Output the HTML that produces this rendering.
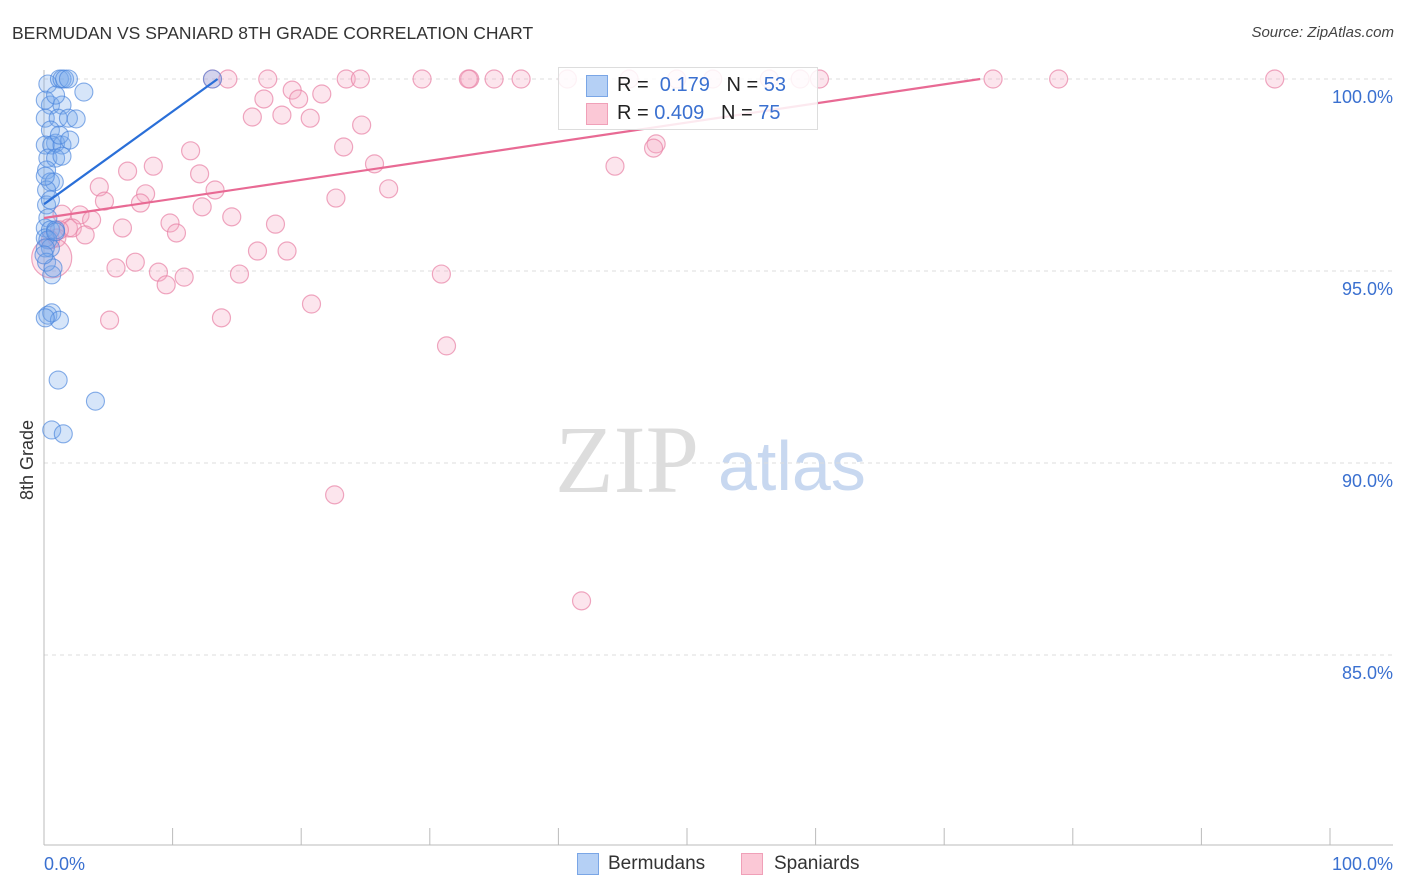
<!DOCTYPE html>
<html><head><meta charset="utf-8"><style>
body{margin:0;background:#fff;font-family:"Liberation Sans",sans-serif;}
#wrap{position:relative;width:1406px;height:892px;overflow:hidden;}
.t{position:absolute;white-space:nowrap;}
</style></head><body>
<div id="wrap">
<div class="t" style="left:12px;top:23px;font-size:17.5px;color:#333;">BERMUDAN VS SPANIARD 8TH GRADE CORRELATION CHART</div>
<div class="t" style="right:12px;top:24px;font-size:15px;color:#444;font-style:italic;">Source: ZipAtlas.com</div>
<div class="t" style="left:17px;top:500px;font-size:18px;color:#333;transform:rotate(-90deg);transform-origin:left top;">8th Grade</div>
<svg id="plot" width="1406" height="892" style="position:absolute;left:0;top:0">
<text x="555" y="492" font-family="Liberation Serif,serif" font-size="96" fill="#ddd">ZIP</text>
<text x="718" y="490" font-family="Liberation Sans,sans-serif" font-size="70" fill="#c8d8f0">atlas</text>
</svg>
<div style="position:absolute;left:558px;top:67px;width:258px;height:61px;border:1px solid #ddd;background:rgba(255,255,255,0.85);"></div>
<div style="position:absolute;left:586px;top:75px;width:20px;height:20px;background:#b5d0f5;border:1px solid #7aa6e6;"></div>
<div style="position:absolute;left:586px;top:103px;width:20px;height:20px;background:#fbc8d6;border:1px solid #f0a0b8;"></div>
<div class="t" style="left:617px;top:74px;font-size:20px;color:#222;">R = &nbsp;<span style="color:#3a70d0">0.179</span>&nbsp;&nbsp;&nbsp;N = <span style="color:#3a70d0">53</span></div>
<div class="t" style="left:617px;top:102px;font-size:20px;color:#222;">R = <span style="color:#3a70d0">0.409</span>&nbsp;&nbsp;&nbsp;N = <span style="color:#3a70d0">75</span></div>
<div style="position:absolute;left:577px;top:853px;width:20px;height:20px;background:#b5d0f5;border:1px solid #7aa6e6;"></div>
<div class="t" style="left:608px;top:853px;font-size:19px;color:#333;">Bermudans</div>
<div style="position:absolute;left:741px;top:853px;width:20px;height:20px;background:#fbc8d6;border:1px solid #f0a0b8;"></div>
<div class="t" style="left:774px;top:853px;font-size:19px;color:#333;">Spaniards</div>
</div>
<script>
const blueX=[0.3,1.2,1.4,1.6,1.9,3.1,0.5,1.4,0.1,1.1,1.9,2.5,0.5,0.9,0.1,0.6,1.4,0.3,0.9,1.4,0.2,0.5,0.8,0.2,0.2,0.3,0.1,0.5,0.9,0.1,0.3,0.5,0.1,0.6,0.3,0.6,1.2,0.1,1.1,4.0,0.6,1.5,13.1,0.1,0.5,0.9,0.2,0.7,0.0,1.2,2.0,0.1,0.9];
const blueY=[99.87,100,100,100,100,99.66,99.32,99.32,98.98,98.98,98.98,98.96,98.67,98.33,98.28,98.28,98.28,97.94,97.94,97.99,97.63,97.32,97.32,97.11,96.72,96.38,96.12,96.07,96.07,95.86,95.81,95.6,95.6,94.9,93.85,93.91,93.72,93.78,92.16,91.61,90.86,90.76,100,97.47,96.85,96.02,95.23,95.08,95.42,98.54,98.41,99.45,99.58];
const pinkX=[13.1,14.3,17.4,23.5,24.6,29.4,33.1,35.0,37.1,40.7,45.5,49.2,52.0,56.4,58.8,60.3,73.8,78.9,95.7,33.0,19.3,17.1,21.6,19.8,16.2,18.5,20.7,24.7,11.4,23.3,47.6,47.4,44.4,25.7,6.5,8.5,4.3,7.9,13.3,12.1,26.8,22.7,4.7,7.5,12.3,1.4,2.8,3.7,14.6,18.0,6.1,9.8,10.3,1.9,2.2,3.2,1.0,0.6,5.6,7.1,8.9,10.9,9.5,15.2,16.6,18.9,30.9,5.1,13.8,20.8,31.3,22.6,41.8,0.5,1.2];
const pinkY=[100,100,100,100,100,100,100,100,100,100,100,100,100,100,100,100,100,100,100,100,99.71,99.48,99.61,99.48,99.01,99.06,98.98,98.8,98.13,98.23,98.31,98.2,97.73,97.79,97.6,97.73,97.19,97.01,97.11,97.53,97.14,96.9,96.82,96.77,96.67,96.48,96.46,96.33,96.41,96.22,96.12,96.25,95.99,96.12,96.12,95.94,95.86,95.34,95.08,95.23,94.97,94.84,94.64,94.92,95.52,95.52,94.92,93.72,93.78,94.14,93.05,89.17,86.41,95.81,96.07];
const yTicks=[100,95,90,85];
const xTickLabels=["0.0%","100.0%"];
const blueTrend=[[0,96.74],[13.5,100]];
const pinkTrend=[[0,96.38],[72.8,100]];
const X=v=>44+v*12.86, Y=v=>79+(100-v)*38.4;
const svg=document.getElementById('plot'), NS='http://www.w3.org/2000/svg';
function mk(tag,attrs){const e=document.createElementNS(NS,tag);for(const k in attrs)e.setAttribute(k,attrs[k]);svg.appendChild(e);return e;}
yTicks.forEach(v=>{
 const g=mk('line',{x1:44,x2:1393,y1:Y(v),y2:Y(v),stroke:'#ddd','stroke-dasharray':'4,4'});
 
 
 const t=mk('text',{x:1393,y:Y(v)+24,'text-anchor':'end','font-size':18,fill:'#3a70d0','font-family':'Liberation Sans,sans-serif'});
 t.textContent=v.toFixed(1)+'%';
 
 
});
let a=mk('line',{x1:44,x2:1393,y1:845,y2:845,stroke:'#bbb'});


a=mk('line',{x1:44,x2:44,y1:70,y2:845,stroke:'#bbb'});


for(let i=0;i<=10;i++){const tk=mk('line',{x1:X(i*10),x2:X(i*10),y1:828,y2:845,stroke:'#bbb'});
 
 }
[[0,'start',44],[100,'end',1393]].forEach((d,i)=>{const t=mk('text',{x:d[2],y:870,'text-anchor':d[1],'font-size':18,fill:'#3a70d0','font-family':'Liberation Sans,sans-serif'});t.textContent=xTickLabels[i];
 
 });
pinkX.forEach((x,i)=>{const c=mk('circle',{cx:X(x),cy:Y(pinkY[i]),r:(i==57?20:9),fill:'rgba(246,170,195,0.3)',stroke:'rgba(232,130,165,0.7)','stroke-width':1.2});
 
 });
blueX.forEach((x,i)=>{const c=mk('circle',{cx:X(x),cy:Y(blueY[i]),r:9,fill:'rgba(120,170,235,0.3)',stroke:'rgba(70,130,220,0.65)','stroke-width':1.1});
 
 });
let l=mk('line',{x1:X(blueTrend[0][0]),y1:Y(blueTrend[0][1]),x2:X(blueTrend[1][0]),y2:Y(blueTrend[1][1]),stroke:'#2a6fd8','stroke-width':2.2});


l=mk('line',{x1:X(pinkTrend[0][0]),y1:Y(pinkTrend[0][1]),x2:X(pinkTrend[1][0]),y2:Y(pinkTrend[1][1]),stroke:'#e86a94','stroke-width':2.2});


</script>
</body></html>
